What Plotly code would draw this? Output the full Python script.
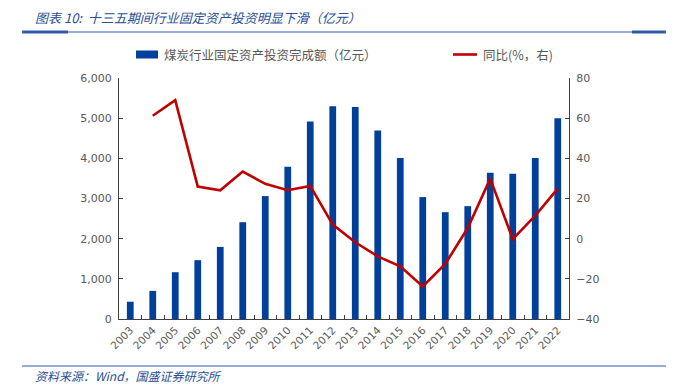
import plotly.graph_objects as go

years = [str(y) for y in range(2003, 2023)]
invest = [430, 700, 1165, 1465, 1795, 2410, 3060, 3790, 4920, 5295, 5280, 4690,
          4010, 3035, 2660, 2810, 3640, 3615, 4010, 5000]
yoy_years = years[1:]
yoy = [61.2, 69.0, 25.9, 24.1, 33.4, 27.3, 24.1, 26.3, 7.0, -1.8, -8.8, -13.8,
       -23.8, -12.6, 5.3, 29.9, -0.2, 11.5, 24.9]

left_ticks = [0, 1000, 2000, 3000, 4000, 5000, 6000]
right_ticks = [-40, -20, 0, 20, 40, 60, 80]

title_text = "图表 10:  十三五期间行业固定资产投资明显下滑（亿元）"
source_text = "资料来源：Wind，国盛证券研究所"
bar_name = "煤炭行业固定资产投资完成额（亿元）"
line_name = "同比(%，右)"

W, H = 679, 386
S = 8  # page body offset
L, R, T, B = 119 - S, 569 - S, 78 - S, 319 - S
BLUE = "#00409A"
RED = "#C00000"
GRAY = "#595959"
CJK = "Noto Sans CJK SC, sans-serif"


def px(x):
    return (x - S - L) / (R - L)


def py(y):
    return (B - (y - S)) / (B - T)


fig = go.Figure()
fig.add_trace(go.Bar(x=years, y=invest, name=bar_name, marker_color=BLUE,
                     marker_line_width=0, width=0.3, yaxis="y"))
fig.add_trace(go.Scatter(x=yoy_years, y=yoy, name=line_name, mode="lines",
                         line=dict(color=RED, width=2.6), yaxis="y2"))

shapes = [
    dict(type="line", xref="paper", yref="paper", x0=px(22), x1=px(666), y0=py(32), y1=py(32),
         line=dict(color="#2E5CA8", width=1)),
    dict(type="line", xref="paper", yref="paper", x0=px(22), x1=px(68), y0=py(32), y1=py(32),
         line=dict(color="#2E5CA8", width=3)),
    dict(type="line", xref="paper", yref="paper", x0=px(632), x1=px(666), y0=py(32), y1=py(32),
         line=dict(color="#2E5CA8", width=3)),
    dict(type="line", xref="paper", yref="paper", x0=px(22), x1=px(666), y0=py(366), y1=py(366),
         line=dict(color="#2E5CA8", width=1)),
    dict(type="rect", xref="paper", yref="paper", x0=px(136), x1=px(158), y0=py(58.5), y1=py(50.5),
         fillcolor=BLUE, line=dict(width=0)),
    dict(type="line", xref="paper", yref="paper", x0=px(453), x1=px(477), y0=py(54.5), y1=py(54.5),
         line=dict(color=RED, width=2.6)),
]

annotations = [
    dict(text=title_text, xref="paper", yref="paper", x=px(33), y=py(17), xanchor="left",
         yanchor="middle", showarrow=False,
         font=dict(family=CJK, size=13, color="#2A4E96", style="italic")),
    dict(text=source_text, xref="paper", yref="paper", x=px(33), y=py(375), xanchor="left",
         yanchor="middle", showarrow=False,
         font=dict(family=CJK, size=12, color="#2A4E96", style="italic")),
    dict(text=bar_name, xref="paper", yref="paper", x=px(162), y=py(54.5), xanchor="left",
         yanchor="middle", showarrow=False, font=dict(family=CJK, size=12.5, color=GRAY)),
    dict(text=line_name, xref="paper", yref="paper", x=px(481), y=py(54.5), xanchor="left",
         yanchor="middle", showarrow=False, font=dict(family=CJK, size=12.5, color=GRAY)),
]

tickfont = dict(family="DejaVu Sans, Verdana, sans-serif", size=11, color=GRAY)

fig.update_layout(
    width=W, height=H,
    margin=dict(l=L, r=W - R, t=T, b=H - B, autoexpand=False),
    paper_bgcolor="white", plot_bgcolor="white",
    showlegend=False,
    shapes=shapes,
    annotations=annotations,
    xaxis=dict(type="category", tickangle=-45,
               tickfont=dict(family="DejaVu Sans, Verdana, sans-serif", size=10.5, color=GRAY),
               showline=True, linecolor="#404040", linewidth=1,
               ticks="inside", ticklen=4, tickcolor="#404040", tickson="boundaries",
               showgrid=False, range=[-0.5, 19.5], fixedrange=True, automargin=False),
    yaxis=dict(range=[0, 6000], tickvals=left_ticks, tickformat=",", tickfont=tickfont,
               showline=True, linecolor="#404040", linewidth=1,
               ticks="inside", ticklen=4, tickcolor="#404040", automargin=False,
               showgrid=False, zeroline=False, ticklabelstandoff=4),
    yaxis2=dict(range=[-40, 80], tickvals=right_ticks, tickfont=tickfont,
                overlaying="y", side="right", anchor="x", automargin=False,
                showline=True, linecolor="#404040", linewidth=1,
                ticks="inside", ticklen=4, tickcolor="#404040",
                showgrid=False, zeroline=False, ticklabelstandoff=4),
)

fig.write_html("out.html")
